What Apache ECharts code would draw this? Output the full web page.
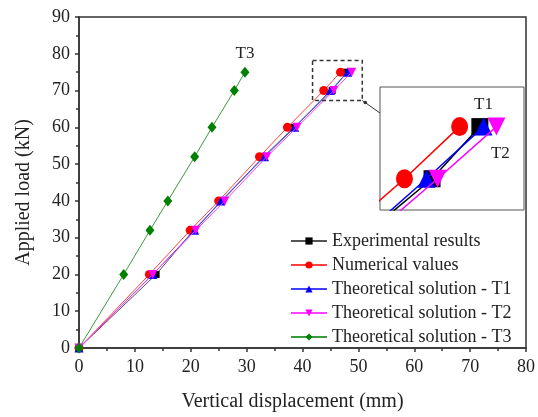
<!DOCTYPE html>
<html><head><meta charset="utf-8">
<script src="https://cdn.jsdelivr.net/npm/echarts@6/dist/echarts.min.js"></script>
<style>html,body{margin:0;padding:0;background:#fff}#c{width:538px;height:417px}</style>
</head><body><div id="c"></div>
<script>
const loads   = [0, 20, 32, 40, 52, 60, 70, 75];
const expDisp = [0, 13.8, 20.5, 25.6, 33.0, 38.5, 45.3, 47.9];
const numDisp = [0, 12.6, 19.9, 25.0, 32.3, 37.3, 43.8, 46.8];
const t1Disp  = [0, 13.2, 20.7, 25.4, 33.2, 38.6, 45.0, 48.1];
const t2Disp  = [0, 13.2, 20.9, 26.1, 33.6, 39.0, 45.6, 48.8];
const t3Disp  = [0, 8.0, 12.7, 15.9, 20.7, 23.8, 27.8, 29.7];
const seriesNames = ['Experimental results','Numerical values','Theoretical solution - T1','Theoretical solution - T2','Theoretical solution - T3'];
const zoomX = [42.47, 50.3];
const zoomY = [67.0, 78.8];

const pair = (xs) => xs.map((x, i) => [x, loads[i]]);
const FONT = 'Liberation Serif';

const defs = [
  {name: seriesNames[0], d: expDisp, color:'#000000', line:'#555555', sym:'rect', size:7, bigSize:17, rot:0},
  {name: seriesNames[1], d: numDisp, color:'#ff0000', line:'#ff4040', sym:'circle', size:9, bigSize:[17,19], rot:0},
  {name: seriesNames[2], d: t1Disp,  color:'#0000ff', line:'#4040ff', sym:'triangle', size:9, bigSize:18, rot:0},
  {name: seriesNames[3], d: t2Disp,  color:'#ff00ff', line:'#ff40ff', sym:'triangle', size:9, bigSize:18, rot:180},
  {name: seriesNames[4], d: t3Disp,  color:'#008000', line:'#3c9a3c', sym:'diamond', size:[9,11], bigSize:18, rot:0}
];

const series = [];
defs.forEach((s, k) => {
  series.push({
    name: s.name, type:'line', data: pair(s.d), xAxisIndex:0, yAxisIndex:0,
    symbol: s.sym, symbolSize: s.size, symbolRotate: s.rot, showAllSymbol:true,
    itemStyle:{color:s.color}, lineStyle:{color:s.line, width:1}, z: 2 + k,
    label: k === 4 ? {show:true, position:'top', distance:5, fontFamily:FONT, fontSize:17, color:'#222',
      formatter: (p) => p.dataIndex === loads.length - 1 ? 'T3' : ''} : {show:false},
    emphasis:{disabled:true}, animation:false
  });
});
defs.slice(0,4).forEach((s, k) => {
  let lab = {show:false};
  if (k === 2) lab = {show:true, position:'top', distance:5, fontFamily:FONT, fontSize:17, color:'#222',
      formatter: (p) => p.dataIndex === loads.length - 1 ? 'T1' : ''};
  if (k === 3) lab = {show:true, position:'bottom', distance:9, offset:[4,0], fontFamily:FONT, fontSize:17, color:'#222',
      formatter: (p) => p.dataIndex === loads.length - 1 ? 'T2' : ''};
  series.push({
    name: 'inset-' + k, type:'line', data: pair(s.d), xAxisIndex:1, yAxisIndex:1,
    symbol: s.sym, symbolSize: s.bigSize, symbolRotate: s.rot, showAllSymbol:true, clip:true,
    itemStyle:{color:s.color}, lineStyle:{color:s.color, width:1.5}, z: 20 + k,
    label: lab, emphasis:{disabled:true}, animation:false
  });
});

const chart = echarts.init(document.getElementById('c'), null, {renderer:'canvas'});
const axisLabel = {fontFamily:FONT, fontSize:18, color:'#222'};
const option = {
  backgroundColor:'#fff',
  animation:false,
  textStyle:{fontFamily:FONT},
  grid:[
    {left:79, right:7, top:17, bottom:64, show:true, borderColor:'#333', borderWidth:1.5, z:0},
    {left:380, top:87, width:144, height:123, show:true, borderColor:'#555', borderWidth:1, backgroundColor:'#fff', z:10}
  ],
  xAxis:[
    {type:'value', gridIndex:0, min:0, max:80, interval:10,
     name:'Vertical displacement (mm)', nameLocation:'middle', nameGap:44,
     nameTextStyle:{fontFamily:FONT, fontSize:20, color:'#222', padding:[0,20,0,0]},
     axisLine:{show:true, onZero:false, lineStyle:{color:'#333', width:1.5}},
     axisTick:{show:true, inside:false, length:4, lineStyle:{color:'#333', width:1.5}},
     minorTick:{show:true, splitNumber:2, length:3, lineStyle:{color:'#333', width:1.5}},
     splitLine:{show:false}, axisLabel: Object.assign({margin:10}, axisLabel)},
    {type:'value', gridIndex:1, min:zoomX[0], max:zoomX[1], show:false, splitLine:{show:false}}
  ],
  yAxis:[
    {type:'value', gridIndex:0, min:0, max:90, interval:10,
     name:'Applied load (kN)', nameLocation:'middle', nameGap:45,
     nameTextStyle:{fontFamily:FONT, fontSize:20, color:'#222', padding:[0,20,0,0]},
     axisLine:{show:true, onZero:false, lineStyle:{color:'#333', width:1.5}},
     axisTick:{show:true, inside:false, length:4, lineStyle:{color:'#333', width:1.5}},
     minorTick:{show:true, splitNumber:2, length:3, lineStyle:{color:'#333', width:1.5}},
     splitLine:{show:false}, axisLabel: Object.assign({margin:9}, axisLabel)},
    {type:'value', gridIndex:1, min:zoomY[0], max:zoomY[1], show:false, splitLine:{show:false}}
  ],
  legend:{
    data: seriesNames, orient:'vertical', left:285, top:227,
    itemWidth:36, itemHeight:9, itemGap:6,
    textStyle:{fontFamily:FONT, fontSize:18, color:'#222'},
    selectedMode:false
  },
  series: series
};
chart.setOption(option);

const a = chart.convertToPixel({gridIndex:0}, [41.8, 78.2]);
const b = chart.convertToPixel({gridIndex:0}, [50.7, 67.3]);
const c = chart.convertToPixel({gridIndex:1}, [zoomX[0], 76.3]);
chart.setOption({
  graphic:[
    {type:'rect', shape:{x:a[0], y:a[1], width:b[0]-a[0], height:b[1]-a[1]},
     style:{fill:'none', stroke:'#333', lineWidth:1.5, lineDash:[4,3]}, z:50},
    {type:'line', shape:{x1:b[0], y1:b[1], x2:c[0], y2:c[1]},
     style:{stroke:'#333', lineWidth:1}, z:50},
    {type:'circle', shape:{cx:b[0]+3, cy:b[1]+2, r:1.8}, style:{fill:'#333'}, z:50}
  ]
});
</script></body></html>
